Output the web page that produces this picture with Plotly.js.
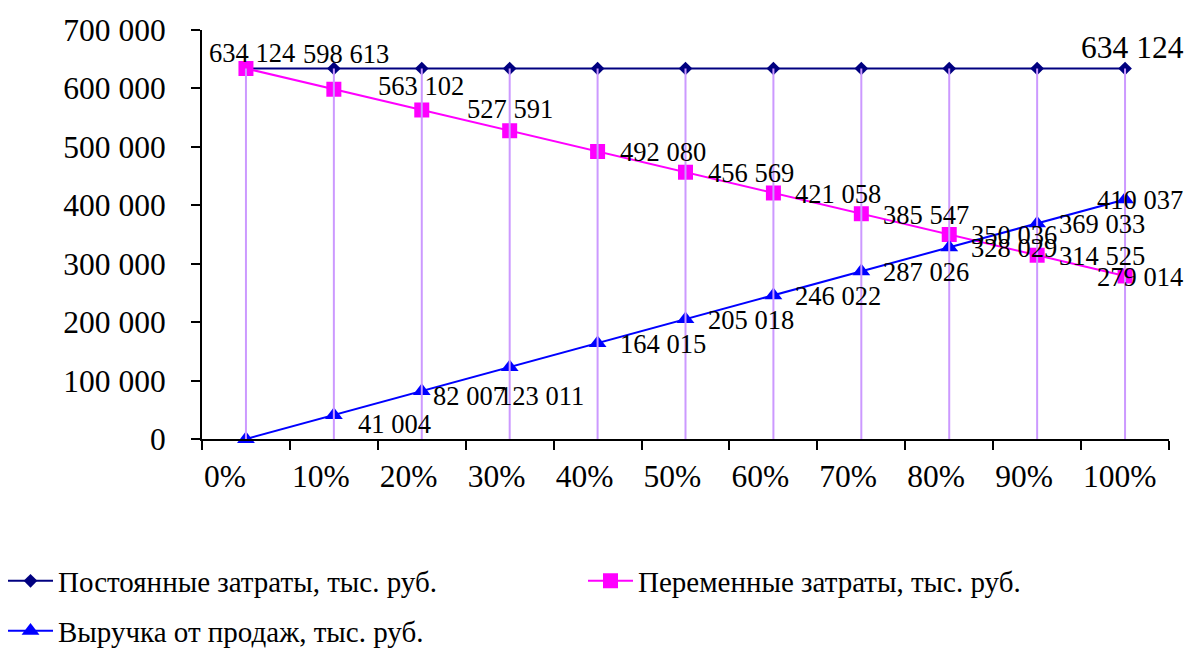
<!DOCTYPE html>
<html>
<head>
<meta charset="utf-8">
<script src="https://cdn.plot.ly/plotly-3.0.1.min.js"></script>
<style>html,body{margin:0;padding:0;background:#fff;}</style>
</head>
<body>
<div id="chart" style="width:1187px;height:648px;"></div>
<script>
// Sales volume levels (share of planned output)
const levels = ['0%', '10%', '20%', '30%', '40%', '50%', '60%', '70%', '80%', '90%', '100%'];

// Thousand roubles
const fixedCosts    = [634124, 634124, 634124, 634124, 634124, 634124, 634124, 634124, 634124, 634124, 634124];
const variableCosts = [634124, 598613, 563102, 527591, 492080, 456569, 421058, 385547, 350036, 314525, 279014];
const revenue       = [0, 41004, 82007, 123011, 164015, 205018, 246022, 287026, 328029, 369033, 410037];

const seriesNames = [
  'Постоянные затраты, тыс. руб.',
  'Переменные затраты, тыс. руб.',
  'Выручка от продаж, тыс. руб.'
];

const FONT = 'Liberation Serif, Times New Roman, serif';
const idx = levels.map((_, i) => i);

// "634124" -> "634 124"
const fmt = v => String(v).replace(/\B(?=(\d{3})+(?!\d))/g, ' ');

// Drop lines from the axis up to the highest series at each level
const dropX = [], dropY = [];
idx.forEach(i => {
  const top = Math.max(fixedCosts[i], variableCosts[i], revenue[i]);
  dropX.push(i, i, null);
  dropY.push(0, top, null);
});

const traces = [
  {
    x: idx, y: fixedCosts, name: seriesNames[0], type: 'scatter', mode: 'lines+markers',
    line: {color: '#000080', width: 2},
    marker: {symbol: 'diamond', size: 10.5, color: '#000080'},
    legend: 'legend', cliponaxis: false, hoverinfo: 'skip'
  },
  {
    x: idx, y: variableCosts, name: seriesNames[1], type: 'scatter', mode: 'lines+markers',
    line: {color: '#FF00FF', width: 2},
    marker: {symbol: 'square', size: 15, color: '#FF00FF'},
    legend: 'legend2', cliponaxis: false, hoverinfo: 'skip'
  },
  {
    x: idx, y: revenue, name: seriesNames[2], type: 'scatter', mode: 'lines+markers',
    line: {color: '#0000FF', width: 2},
    marker: {symbol: 'triangle-up', size: 15.5, color: '#0000FF'},
    legend: 'legend3', cliponaxis: false, hoverinfo: 'skip'
  },
  {
    x: dropX, y: dropY, type: 'scatter', mode: 'lines', showlegend: false,
    line: {color: '#CC99FF', width: 2}, hoverinfo: 'skip', cliponaxis: false
  }
];

// Label placement (pixel offset of the label centre from its point)
const RIGHT = [65, 1];
const variableLabelShift = [[6, -15], [12, -35], [-1, -24], [0, -22], RIGHT, RIGHT, RIGHT, RIGHT, RIGHT, RIGHT, [15, 1]];
const revenueLabelShift  = [null, [61, 9], [48, 5], [32, 29], RIGHT, RIGHT, RIGHT, RIGHT, RIGHT, RIGHT, [15, 1]];
const fixedLabelShift    = [null, null, null, null, null, null, null, null, null, null, [7, -21]];

const annotations = [];
function addLabels(values, shifts, size) {
  values.forEach((v, i) => {
    const s = shifts[i];
    if (!s) return;
    annotations.push({
      x: i, y: v, xref: 'x', yref: 'y', text: fmt(v), showarrow: false,
      xanchor: 'center', yanchor: 'middle', xshift: s[0], yshift: -s[1],
      font: {family: FONT, size: size, color: '#000'}
    });
  });
}
addLabels(variableCosts, variableLabelShift, 26.5);
addLabels(revenue, revenueLabelShift, 26.5);
addLabels(fixedCosts, fixedLabelShift, 31.5);

const tickPos = idx.map(i => i - 0.5).concat([levels.length - 0.5]);
const tickText = levels.concat(['']);

function legendAt(px, py) {
  return {
    orientation: 'h', xref: 'container', yref: 'container',
    x: px / 1187, xanchor: 'left', y: 1 - py / 648, yanchor: 'middle',
    itemwidth: 45, bgcolor: 'rgba(0,0,0,0)', borderwidth: 0,
    font: {family: FONT, size: 29, color: '#000'}
  };
}

const layout = {
  width: 1187, height: 648,
  paper_bgcolor: '#fff', plot_bgcolor: '#fff',
  margin: {l: 202, r: 18, t: 30, b: 209},
  separators: ', ',
  font: {family: FONT, color: '#000', size: 31.5},
  showlegend: true,
  xaxis: {
    range: [-0.5, levels.length - 0.5], fixedrange: true,
    tickmode: 'array', tickvals: tickPos, ticktext: tickText,
    ticklabelposition: 'outside right', ticklabelstandoff: 8,
    ticks: 'outside', ticklen: 9, tickwidth: 2, tickcolor: '#000',
    showline: true, linecolor: '#000', linewidth: 2,
    showgrid: false, zeroline: false,
    tickfont: {family: FONT, size: 31.5, color: '#000'}
  },
  yaxis: {
    range: [0, 700000], fixedrange: true,
    tickmode: 'linear', tick0: 0, dtick: 100000, tickformat: ',d',
    ticklabelstandoff: 19,
    ticks: 'outside', ticklen: 9, tickwidth: 2, tickcolor: '#000',
    showline: true, linecolor: '#000', linewidth: 2,
    showgrid: false, zeroline: false,
    tickfont: {family: FONT, size: 31.5, color: '#000'}
  },
  legend: legendAt(3, 581),
  legend2: legendAt(583, 581),
  legend3: legendAt(3, 631),
  annotations: annotations
};

Plotly.newPlot('chart', traces, layout, {displayModeBar: false, staticPlot: true});
</script>
</body>
</html>
